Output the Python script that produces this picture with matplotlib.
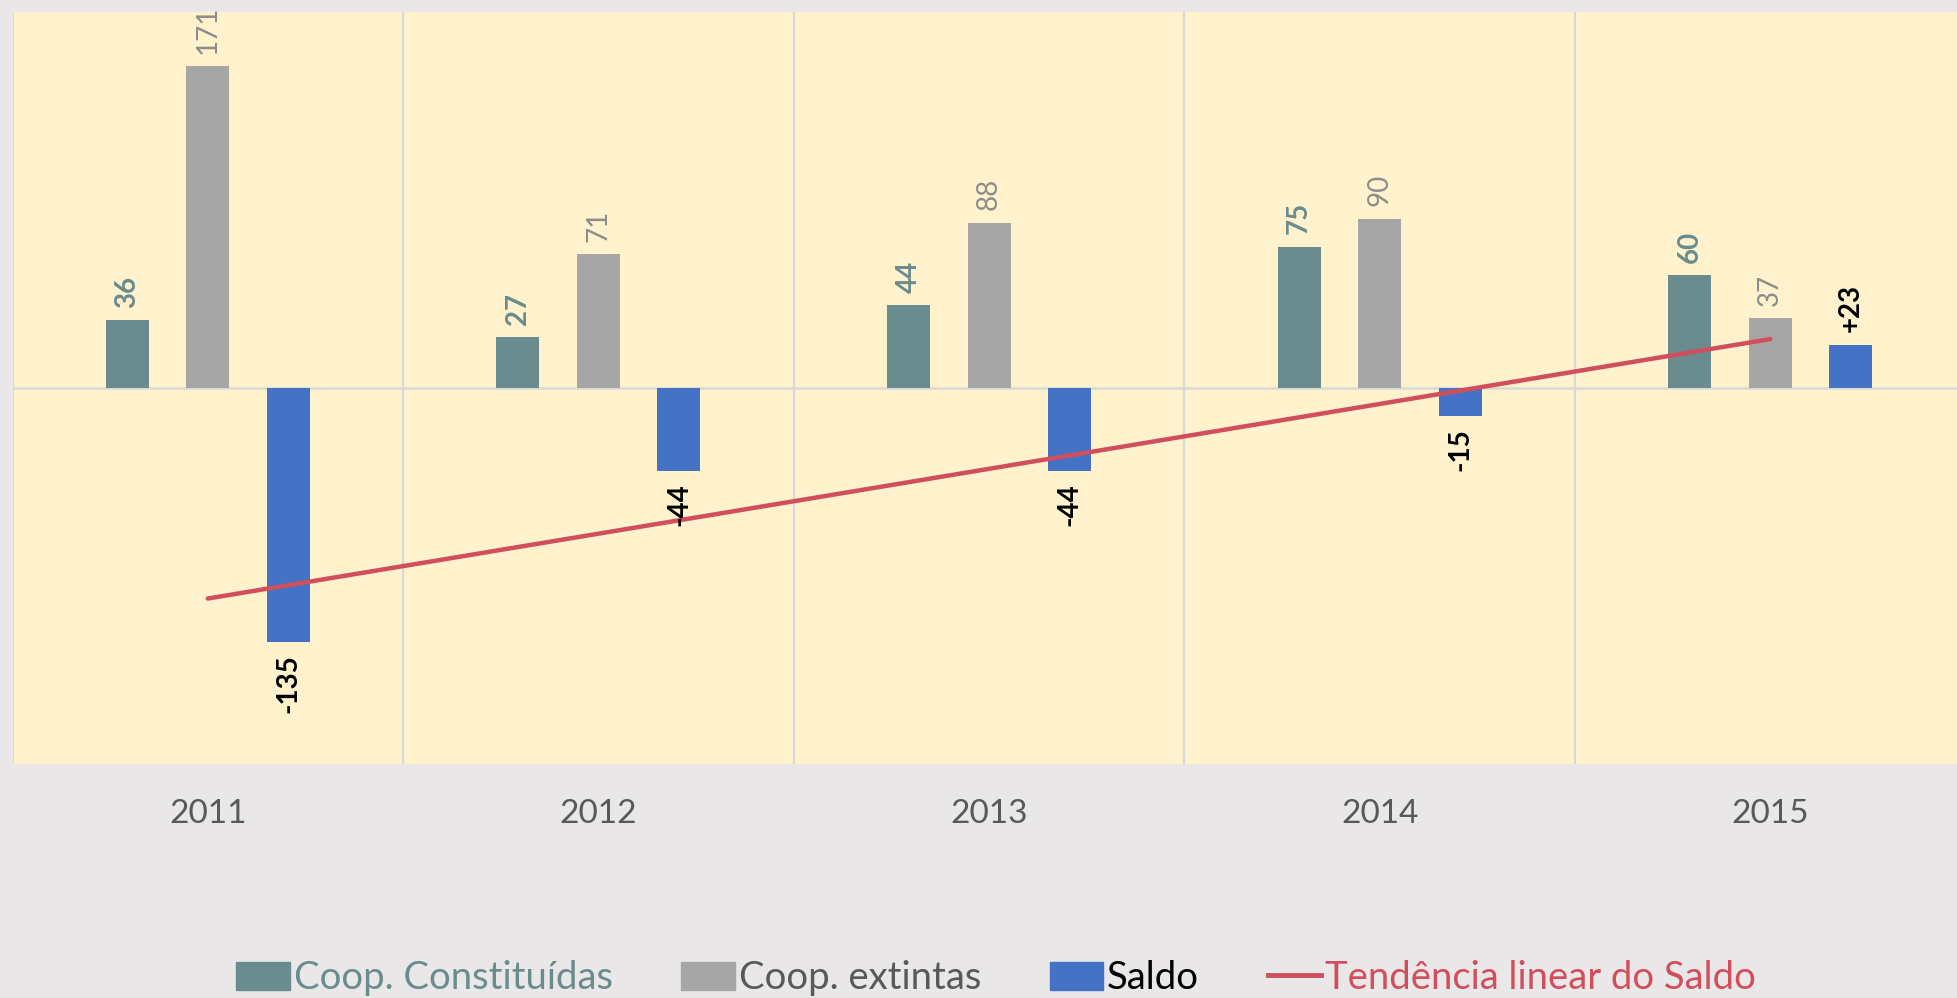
import matplotlib.pyplot as plt
import numpy as np
from matplotlib.patches import Patch
from matplotlib.lines import Line2D

plt.rcParams['font.family'] = ['Lato', 'DejaVu Sans']

years = ['2011', '2012', '2013', '2014', '2015']
constituidas = [36, 27, 44, 75, 60]
extintas = [171, 71, 88, 90, 37]
saldo = [-135, -44, -44, -15, 23]
saldo_labels = ['-135', '-44', '-44', '-15', '+23']

c_teal = '#6A8C8E'
c_gray = '#A6A6A6'
c_blue = '#4472C4'
c_red = '#D14F5D'

fig = plt.figure(figsize=(19.57, 9.98), dpi=100, facecolor='#E9E7E8')
ax = fig.add_axes([0.0064, 0.2345, 0.998, 0.7535])
ax.set_facecolor('#FFF2CC')

x = np.arange(len(years))
w = 0.11
off = 0.206

ax.bar(x - off, constituidas, w, color=c_teal, zorder=3)
ax.bar(x, extintas, w, color=c_gray, zorder=3)
ax.bar(x + off, saldo, w, color=c_blue, zorder=3)

# linear trend of Saldo
k, b = np.polyfit(x, saldo, 1)
ax.plot([x[0], x[-1]], [k * x[0] + b, k * x[-1] + b], color=c_red, lw=3.2,
        solid_capstyle='round', zorder=4)

# labels
for i in range(len(years)):
    ax.annotate(str(constituidas[i]), (x[i] - off, constituidas[i]), xytext=(0, 9),
                textcoords='offset points', rotation=90, ha='center', va='bottom',
                color=c_teal, fontsize=20, fontweight='bold', zorder=5)
    ax.annotate(str(extintas[i]), (x[i], extintas[i]), xytext=(0, 9),
                textcoords='offset points', rotation=90, ha='center', va='bottom',
                color='#8C8C8C', fontsize=20, zorder=5)
    if saldo[i] < 0:
        ax.annotate(saldo_labels[i], (x[i] + off, saldo[i]), xytext=(0, -9),
                    textcoords='offset points', rotation=90, ha='center', va='top',
                    color='black', fontsize=20, fontweight='bold', zorder=5)
    else:
        ax.annotate(saldo_labels[i], (x[i] + off, saldo[i]), xytext=(0, 9),
                    textcoords='offset points', rotation=90, ha='center', va='bottom',
                    color='black', fontsize=20, fontweight='bold', zorder=5)

ax.set_xlim(-0.5, 4.5)
ax.set_ylim(-200, 200)
ax.axhline(0, color='#D9D9D9', lw=1.8, zorder=2)
for bnd in np.arange(-0.5, 5, 1):
    ax.axvline(bnd, color='#D9D9D9', lw=1.5, zorder=1)

for s in ax.spines.values():
    s.set_visible(False)
ax.set_yticks([])
ax.set_xticks(x)
ax.set_xticklabels(years, fontsize=24, color='#595959')
ax.tick_params(axis='x', length=0, pad=25)

handles = [Patch(color=c_teal), Patch(color=c_gray), Patch(color=c_blue),
           Line2D([0], [0], color=c_red, lw=3.5)]
names = ['Coop. Constituídas', 'Coop. extintas', 'Saldo', 'Tendência linear do Saldo']
leg = fig.legend(handles, names, loc='center', bbox_to_anchor=(0.509, 0.02), ncol=4,
                 frameon=False, fontsize=27.5, handlelength=1.4, handleheight=0.75,
                 handletextpad=0.1, columnspacing=1.8)
for t, c in zip(leg.get_texts(), [c_teal, '#595959', 'black', c_red]):
    t.set_color(c)

fig.savefig('out.png', dpi=100, facecolor=fig.get_facecolor())
